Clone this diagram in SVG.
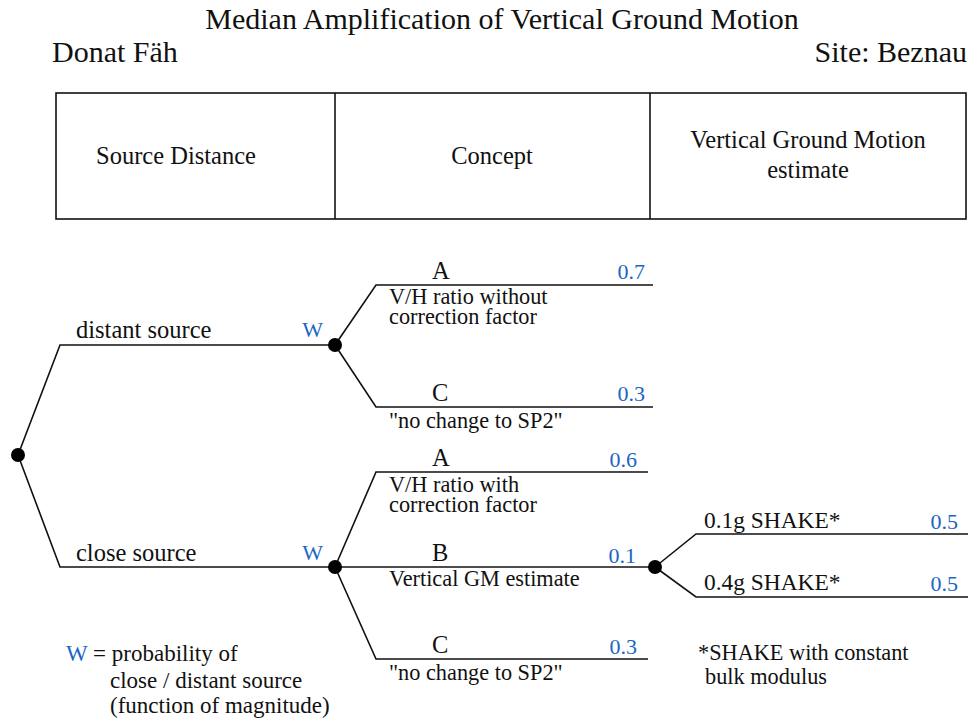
<svg xmlns="http://www.w3.org/2000/svg" width="970" height="719" viewBox="0 0 970 719">
<style>
text{font-family:"Liberation Serif","Times New Roman",serif;fill:#111}
.t{font-size:30px}
.h{font-size:24.5px}
.m{font-size:24.5px}
.g{font-size:23.4px}
.s{font-size:22.3px}
.l{font-size:23px}
.b{fill:#1a66c4;font-size:22px}
.ln{stroke:#111;stroke-width:1.6;fill:none}
.nd{fill:#000}
</style>
<rect width="970" height="719" fill="#fff"/>
<g id="title">
<text class="t" x="502" y="29" text-anchor="middle">Median Amplification of Vertical Ground Motion</text>
<text class="t" x="52" y="62">Donat Fäh</text>
<text class="t" x="967" y="62" text-anchor="end">Site: Beznau</text>
</g>
<g id="header">
<rect x="56" y="93" width="910" height="126" class="ln"/>
<line x1="335" y1="93" x2="335" y2="219" class="ln"/>
<line x1="650" y1="93" x2="650" y2="219" class="ln"/>
<text class="h" x="176" y="164" text-anchor="middle">Source Distance</text>
<text class="h" x="492" y="164" text-anchor="middle">Concept</text>
<text class="h" x="808" y="148" text-anchor="middle">Vertical Ground Motion</text>
<text class="h" x="808" y="178" text-anchor="middle">estimate</text>
</g>
<g id="connectors">
<polyline class="ln" points="18,455 60,345 335,345"/>
<polyline class="ln" points="18,455 60,567 335,567"/>
<polyline class="ln" points="335,345 376,285 653,285"/>
<polyline class="ln" points="335,345 376,407 653,407"/>
<polyline class="ln" points="335,567 376,472 648,472"/>
<polyline class="ln" points="335,567 655,567"/>
<polyline class="ln" points="335,567 376,659 648,659"/>
<polyline class="ln" points="655,567 696,534 968,534"/>
<polyline class="ln" points="655,567 696,597 968,597"/>
</g>
<g id="root"><circle class="nd" cx="18" cy="455" r="7"/></g>
<g id="distant">
<circle class="nd" cx="335" cy="345" r="7"/>
<text class="m" x="76" y="338">distant source</text>
<text class="b" x="323" y="337" text-anchor="end">W</text>
</g>
<g id="close">
<circle class="nd" cx="335" cy="567" r="7"/>
<text class="m" x="76" y="561">close source</text>
<text class="b" x="323" y="560" text-anchor="end">W</text>
</g>
<g id="distA">
<text class="m" x="432" y="279">A</text>
<text class="b" x="645" y="279" text-anchor="end">0.7</text>
<text class="s" x="389" y="304">V/H ratio without</text>
<text class="s" x="389" y="324">correction factor</text>
</g>
<g id="distC">
<text class="m" x="432" y="401">C</text>
<text class="b" x="645" y="401" text-anchor="end">0.3</text>
<text class="s" x="389" y="428">"no change to SP2"</text>
</g>
<g id="closeA">
<text class="m" x="432" y="466">A</text>
<text class="b" x="637" y="467" text-anchor="end">0.6</text>
<text class="s" x="389" y="492">V/H ratio with</text>
<text class="s" x="389" y="512">correction factor</text>
</g>
<g id="closeB">
<circle class="nd" cx="655" cy="567" r="7"/>
<text class="m" x="432" y="561">B</text>
<text class="b" x="636" y="563" text-anchor="end">0.1</text>
<text class="s" x="389" y="586">Vertical GM estimate</text>
</g>
<g id="closeC">
<text class="m" x="432" y="653">C</text>
<text class="b" x="637" y="654" text-anchor="end">0.3</text>
<text class="s" x="389" y="680">"no change to SP2"</text>
</g>
<g id="shake1">
<text class="g" x="704" y="528">0.1g SHAKE*</text>
<text class="b" x="958" y="529" text-anchor="end">0.5</text>
</g>
<g id="shake4">
<text class="g" x="704" y="590">0.4g SHAKE*</text>
<text class="b" x="958" y="591" text-anchor="end">0.5</text>
</g>
<g id="notes">
<text class="s" x="698" y="660">*SHAKE with constant</text>
<text class="s" x="705" y="684">bulk modulus</text>
<text class="l" x="66" y="661"><tspan style="fill:#1a66c4">W</tspan> = probability of</text>
<text class="l" x="110" y="688">close / distant source</text>
<text class="l" x="110" y="713">(function of magnitude)</text>
</g>
</svg>
